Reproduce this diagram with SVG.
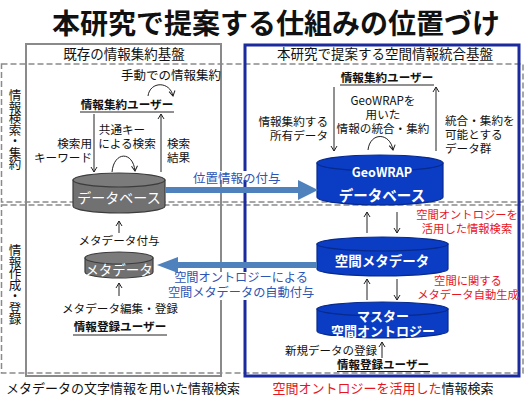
<svg xmlns="http://www.w3.org/2000/svg" width="529" height="400" viewBox="0 0 529 400">
<defs>
<style>
text{font-family:"Noto Sans CJK JP","Noto Sans",sans-serif;fill:#111;}
.t12{font-size:11.6px;}
.b{font-weight:700;}
.mid{text-anchor:middle;}
.end{text-anchor:end;}
.red{fill:#e8141e;}
.blu{fill:#2d55b5;}
.wh{fill:#fff;}
.vert{font-size:12.5px;writing-mode:vertical-rl;letter-spacing:-1px;}
.thin{fill:none;stroke:#222;stroke-width:1;marker-end:url(#ah);}
.ul{stroke:#222;stroke-width:1;}
.dash{fill:none;stroke:#8a8a8a;stroke-width:1.5;stroke-dasharray:6 3;}
.gcyl{fill:#717171;stroke:#3c3c3c;stroke-width:1.2;}
.bcyl{fill:#0b3cc4;stroke:#072a8c;stroke-width:1.2;}
.big{fill:#4f81bd;}
</style>
<marker id="ah" markerWidth="8" markerHeight="8" refX="6" refY="4" orient="auto" markerUnits="userSpaceOnUse">
<path d="M1,1 L6,4 L1,7" fill="none" stroke="#222" stroke-width="1"/>
</marker>
</defs>
<rect width="529" height="400" fill="#fff"/>

<g id="title">
<text x="276" y="34" class="mid b" style="font-size:28px">本研究で提案する仕組みの位置づけ</text>
</g>

<g id="bands">
<rect class="dash" x="1.5" y="64" width="521.5" height="138"/>
<rect class="dash" x="1.5" y="205" width="521.5" height="168"/>
<text x="15" y="89" class="vert">情報検索・集約</text>
<text x="15" y="244" class="vert">情報作成・登録</text>
</g>

<g id="existing-box">
<rect x="26" y="44" width="195" height="332" fill="none" stroke="#8a8a8a" stroke-width="2"/>
<text x="124" y="59" class="mid" style="font-size:13.5px">既存の情報集約基盤</text>
</g>

<g id="proposed-box">
<rect x="245" y="45" width="274" height="331" fill="none" stroke="#1b2a9c" stroke-width="3"/>
<text x="385" y="59" class="mid" style="font-size:13.5px">本研究で提案する空間情報統合基盤</text>
</g>

<g id="left-user">
<text x="171" y="80" class="mid" style="font-size:12.5px">手動での情報集約</text>
<text x="127" y="109" class="t12 mid b">情報集約ユーザー</text>
<line class="ul" x1="80" y1="112" x2="174" y2="112"/>
</g>

<g id="left-db">
<path class="gcyl" d="M73,180 L73,206 A46,7 0 0 0 165,206 L165,180 Z"/>
<ellipse class="gcyl" cx="119" cy="180" rx="46" ry="7" style="fill:#7b7b7b"/>
<text x="119" y="203" class="mid wh" style="font-size:14px">データベース</text>
</g>

<g id="left-meta">
<path class="gcyl" d="M85,258 L85,272 A34,6 0 0 0 153,272 L153,258 Z"/>
<ellipse class="gcyl" cx="119" cy="258" rx="34" ry="6" style="fill:#7b7b7b"/>
<text x="119" y="275" class="mid wh" style="font-size:13.5px">メタデータ</text>
</g>

<g id="left-reg-user">
<text x="120" y="313" class="t12 mid">メタデータ編集・登録</text>
<text x="120" y="331" class="t12 mid b">情報登録ユーザー</text>
<line class="ul" x1="73" y1="335" x2="167" y2="335"/>
</g>

<g id="geowrap-db">
<path class="bcyl" d="M317,163 L317,197 A63,8 0 0 0 443,197 L443,163 Z"/>
<ellipse class="bcyl" cx="380" cy="163" rx="63" ry="8"/>
<text x="382" y="177" class="mid wh b" style="font-size:12.5px">GeoWRAP</text>
<text x="382" y="201" class="mid wh b" style="font-size:14.5px">データベース</text>
</g>

<g id="spatial-meta">
<path class="bcyl" d="M317,244 L317,269 A65.5,7 0 0 0 448,269 L448,244 Z"/>
<ellipse class="bcyl" cx="382.5" cy="244" rx="65.5" ry="7"/>
<text x="382" y="266" class="mid wh b" style="font-size:13.5px">空間メタデータ</text>
</g>

<g id="master-onto">
<path class="bcyl" d="M317,309 L317,331 A65.5,7 0 0 0 448,331 L448,309 Z"/>
<ellipse class="bcyl" cx="382.5" cy="309" rx="65.5" ry="7"/>
<text x="383" y="321" class="mid wh b" style="font-size:13px">マスター</text>
<text x="383" y="336" class="mid wh b" style="font-size:13px">空間オントロジー</text>
</g>

<g id="right-user">
<text x="387" y="82" class="t12 mid b">情報集約ユーザー</text>
<line class="ul" x1="340" y1="85" x2="434" y2="85"/>
</g>

<g id="right-reg-user">
<text x="377" y="355" class="end" style="font-size:11.5px">新規データの登録</text>
<text x="383" y="369" class="mid b" style="font-size:11.5px">情報登録ユーザー</text>
<line class="ul" x1="337" y1="371.5" x2="430" y2="371.5"/>
</g>

<g id="connectors">
<path class="thin" d="M148,96 C150,81 170,81 173,96"/>
<line class="thin" x1="94" y1="114" x2="94" y2="172"/>
<line class="thin" x1="161" y1="172" x2="161" y2="114"/>
<path class="thin" d="M112,172 C114,151 133,151 135,171"/>
<line class="thin" x1="119" y1="233" x2="119" y2="221"/>
<line class="thin" x1="119" y1="296" x2="119" y2="283"/>
<line class="thin" x1="334" y1="87" x2="334" y2="151"/>
<line class="thin" x1="436" y1="151" x2="436" y2="87"/>
<path class="thin" d="M368,150 C370,132 390,132 393,150"/>
<line class="thin" x1="367" y1="233" x2="367" y2="212"/>
<line class="thin" x1="397" y1="212" x2="397" y2="233"/>
<line class="thin" x1="367" y1="300" x2="367" y2="279"/>
<line class="thin" x1="397" y1="279" x2="397" y2="300"/>
<line class="thin" x1="382" y1="358" x2="382" y2="342"/>
<rect x="190" y="171" width="92" height="9" fill="#fff"/>
<rect x="174" y="272" width="135" height="28" fill="#fff"/>
<polygon class="big" points="165,187 298,187 298,180 318,190 298,200 298,193 165,193"/>
<polygon class="big" points="317,262 178,262 178,257 157,265 178,273 178,268 317,268"/>
</g>

<g id="labels">
<text x="122" y="134" class="t12 mid">共通キー</text>
<text x="127" y="148" class="t12 mid">による検索</text>
<text x="92" y="148" class="t12 end">検索用</text>
<text x="92" y="162" class="t12 end">キーワード</text>
<text x="167" y="148" class="t12">検索</text>
<text x="167" y="162" class="t12">結果</text>
<text x="119" y="245" class="t12 mid">メタデータ付与</text>
<text x="193" y="183" class="blu" style="font-size:12.5px">位置情報の付与</text>
<text x="241" y="282" class="blu mid" style="font-size:12.2px">空間オントロジーによる</text>
<text x="241" y="297" class="blu mid" style="font-size:12.2px">空間メタデータの自動付与</text>
<text x="328" y="126" class="t12 end">情報集約する</text>
<text x="328" y="140" class="t12 end">所有データ</text>
<text x="383" y="105" class="t12 mid">GeoWRAPを</text>
<text x="383" y="119" class="t12 mid">用いた</text>
<text x="383" y="133" class="t12 mid">情報の統合・集約</text>
<text x="445" y="125" class="t12">統合・集約を</text>
<text x="445" y="139" class="t12">可能とする</text>
<text x="445" y="153" class="t12">データ群</text>
<text x="467" y="219" class="mid red" style="font-size:11.3px">空間オントロジーを</text>
<text x="467" y="233" class="mid red" style="font-size:11.3px">活用した情報検索</text>
<text x="468" y="285" class="mid red" style="font-size:11.3px">空間に関する</text>
<text x="468" y="299" class="mid red" style="font-size:11.3px">メタデータ自動生成</text>
</g>

<g id="captions">
<text x="123" y="393" class="mid" style="font-size:13px">メタデータの文字情報を用いた情報検索</text>
<text x="383" y="393" class="mid" style="font-size:13px"><tspan class="red">空間オントロジーを活用した</tspan>情報検索</text>
</g>
</svg>
